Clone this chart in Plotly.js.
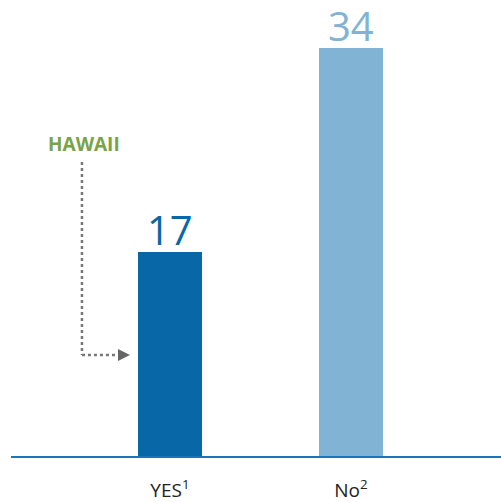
<!DOCTYPE html>
<html>
<head>
<meta charset="utf-8">
<script src="https://cdn.plot.ly/plotly-3.0.1.min.js"></script>
<style>html,body{margin:0;padding:0;background:#fff;}#chart{width:501px;height:502px;}</style>
</head>
<body>
<div id="chart"></div>
<script>
const categories = ["YES", "No"];
const tickLabels = ["YES<sup>1</sup>", "No<sup>2</sup>"];
const values = [17, 34];
const barColors = ["#0767a7", "#80b3d4"];
const calloutText = "HAWAII";

const xPos = [0, 1];
const trace = {
  type: "bar",
  x: xPos,
  y: values,
  width: 0.354,
  marker: {color: barColors},
  hoverinfo: "none"
};

const valueLabels = values.map((v, i) => ({
  xref: "x", yref: "y", x: xPos[i], y: v, text: String(v), showarrow: false,
  xanchor: "center", yanchor: "bottom", yshift: -7,
  font: {family: "Open Sans, Noto Sans, sans-serif", size: 40, color: barColors[i]}
}));

const layout = {
  width: 501, height: 502,
  margin: {l: 11, r: 0, t: 0, b: 46, pad: 0},
  paper_bgcolor: "#fff", plot_bgcolor: "#fff",
  showlegend: false,
  bargap: 0,
  xaxis: {
    range: [-0.878, 1.829],
    tickvals: xPos, ticktext: tickLabels,
    showgrid: false, zeroline: false,
    showline: true, linecolor: "#1a75bb", linewidth: 1.5,
    ticks: "", ticklen: 0,
    ticklabelstandoff: 17,
    tickfont: {family: "Open Sans, Noto Sans, sans-serif", size: 19, color: "#222"},
    fixedrange: true
  },
  yaxis: {
    range: [0, 38],
    visible: false, showgrid: false, zeroline: false, fixedrange: true
  },
  shapes: [
    {type: "line", xref: "x", yref: "y", x0: -0.486, y0: 24.5, x1: -0.486, y1: 8.42,
     line: {color: "#777", width: 2.5, dash: "dot"}},
    {type: "line", xref: "x", yref: "y", x0: -0.486, y0: 8.42, x1: -0.287, y1: 8.42,
     line: {color: "#777", width: 2.5, dash: "dot"}},
    {type: "path", xref: "x", yref: "y", path: "M -0.287 8.92 L -0.287 7.92 L -0.221 8.42 Z",
     fillcolor: "#666", line: {width: 0}}
  ],
  annotations: valueLabels.concat([
    {xref: "x", yref: "y", x: -0.475, y: 26.04, text: "<b>" + calloutText + "</b>", showarrow: false,
     font: {family: "Open Sans, Noto Sans, sans-serif", size: 19, color: "#78a347"},
     xanchor: "center", yanchor: "middle"}
  ])
};

Plotly.newPlot("chart", [trace], layout, {displayModeBar: false, staticPlot: true});
</script>
</body>
</html>
